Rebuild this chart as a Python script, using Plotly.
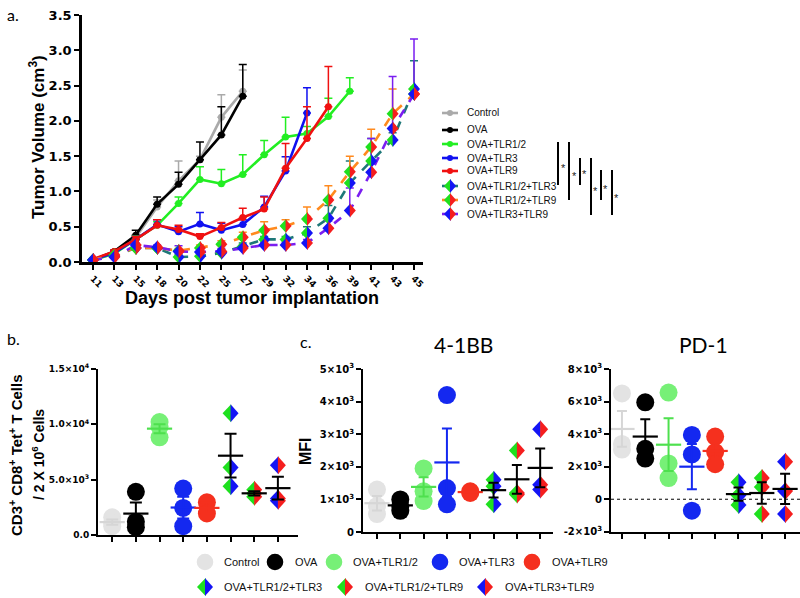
import numpy as np
import plotly.graph_objects as go

W, H = 800, 598
def px(x): return x / W
def py(y): return 1 - y / H

# ---------------- data: panel a (tumor volume, cm3) ----------------
days = [11, 13, 15, 18, 20, 22, 25, 27, 29, 32, 34, 36, 39, 41, 43, 45]
group_names = ["Control", "OVA", "OVA+TLR1/2", "OVA+TLR3", "OVA+TLR9",
               "OVA+TLR1/2+TLR3", "OVA+TLR1/2+TLR9", "OVA+TLR3+TLR9"]

vol_control = [0.03, 0.12, 0.35, 0.78, 1.15, 1.45, 2.05, 2.42]
err_control = [0.0, 0.0, 0.03, 0.10, 0.28, 0.05, 0.32, 0.30]
vol_ova = [0.03, 0.15, 0.38, 0.82, 1.10, 1.45, 1.80, 2.35]
err_ova = [0.0, 0.02, 0.07, 0.10, 0.17, 0.25, 0.40, 0.45]
vol_tlr12 = [0.03, 0.12, 0.32, 0.52, 0.83, 1.17, 1.11, 1.24, 1.52, 1.77, 1.82, 2.06, 2.42]
err_tlr12 = [0.0, 0.02, 0.05, 0.05, 0.09, 0.18, 0.20, 0.28, 0.20, 0.28, 0.10, 0.26, 0.19]
vol_tlr3 = [0.03, 0.13, 0.32, 0.53, 0.43, 0.54, 0.45, 0.53, 0.78, 1.29, 2.11]
err_tlr3 = [0.0, 0.02, 0.04, 0.07, 0.07, 0.16, 0.10, 0.07, 0.15, 0.20, 0.36]
vol_tlr9 = [0.04, 0.15, 0.32, 0.52, 0.46, 0.36, 0.49, 0.63, 0.75, 1.33, 1.75, 2.20]
err_tlr9 = [0.0, 0.02, 0.04, 0.08, 0.06, 0.04, 0.07, 0.13, 0.17, 0.35, 0.45, 0.57]
vol_12_3 = [0.03, 0.08, 0.20, 0.20, 0.07, 0.08, 0.13, 0.22, 0.32, 0.32, 0.41, 0.62, 1.12, 1.43, 1.73, 2.45]
err_12_3 = [0.0, 0.02, 0.03, 0.02, 0.04, 0.04, 0.04, 0.05, 0.04, 0.04, 0.09, 0.18, 0.31, 0.32, 0.10, 0.40]
vol_12_9 = [0.03, 0.10, 0.20, 0.20, 0.16, 0.20, 0.25, 0.35, 0.45, 0.51, 0.61, 0.88, 1.28, 1.63, 2.10, 2.38]
err_12_9 = [0.0, 0.02, 0.03, 0.03, 0.03, 0.04, 0.05, 0.07, 0.12, 0.09, 0.17, 0.20, 0.22, 0.25, 0.35, 0.10]
vol_3_9 = [0.03, 0.07, 0.24, 0.21, 0.15, 0.14, 0.15, 0.20, 0.24, 0.24, 0.27, 0.48, 0.73, 1.27, 1.89, 2.38]
err_3_9 = [0.0, 0.02, 0.03, 0.03, 0.08, 0.05, 0.04, 0.04, 0.04, 0.04, 0.05, 0.10, 0.32, 0.48, 0.74, 0.78]

# ---------------- data: panel b (cells / 2x10^6) ----------------
tet_cells = [[1600, 1100, 800], [3900, 1200, 700], [10200, 9800, 8830], [4200, 2450, 800],
             [2950, 1950], [11000, 6100, 4400], [4100, 3750, 3450], [6300, 3300, 3100]]
# ---------------- data: panel c (MFI) ----------------
mfi_41bb = [[1300, 800, 550], [1000, 800, 650], [1950, 1250, 950], [4200, 1350, 850],
            [1250, 1200], [1600, 1400, 850], [2500, 1200, 1150], [3150, 1450, 1300]]
mfi_pd1 = [[6500, 3400, 3050], [5950, 3100, 2500], [6550, 2200, 1300], [3950, 2750, -700],
           [3850, 2900, 2150], [1050, 250, -350], [1300, 750, -900], [2300, 500, -900]]

b_ticks = [0, 5000, 10000, 15000]
b_ticktext = ["0.0", "5.0×10<sup>3</sup>", "1.0×10<sup>4</sup>", "1.5×10<sup>4</sup>"]
c1_ticks = [0, 1000, 2000, 3000, 4000, 5000]
c1_ticktext = ["0", "1×10<sup>3</sup>", "2×10<sup>3</sup>", "3×10<sup>3</sup>", "4×10<sup>3</sup>", "5×10<sup>3</sup>"]
c2_ticks = [-2000, 0, 2000, 4000, 6000, 8000]
c2_ticktext = ["-2×10<sup>3</sup>", "0", "2×10<sup>3</sup>", "4×10<sup>3</sup>", "6×10<sup>3</sup>", "8×10<sup>3</sup>"]

# ---------------- styles ----------------
GREEN, BLUE, RED = "#1ee01e", "#1414f5", "#f51e1e"
line_colors = ["#aaaaaa", "#000000", "#22ee22", "#1010f0", "#f01010", "#1e7878", "#ff8a1e", "#7a1ef0"]
dot_colors = ["#e3e3e3", "#000000", "#77f077", "#1428f0", "#f5301e", None, None, None]
mean_colors = ["#d6d6d6", "#000000", "#4ee04e", "#1428f0", "#f5301e", "#000000", "#000000", "#000000"]
halves_cols = {5: (GREEN, BLUE), 6: (GREEN, RED), 7: (BLUE, RED)}

SANS = "Liberation Sans"
TICKF = "DejaVu Sans"

fig = go.Figure()
shapes = []
annotations = []

def split_diamond(xref, yref, x, y, w, h, cl, cr, layer):
    base = dict(type="path", xref=xref, yref=yref, xsizemode="pixel", ysizemode="pixel",
                xanchor=x, yanchor=y, line=dict(width=0), layer=layer)
    return [dict(base, path=f"M{-w},0L0.6,{h}L0.6,{-h}Z", fillcolor=cl),
            dict(base, path=f"M{w},0L0,{h}L0,{-h}Z", fillcolor=cr)]

def circle(xref, yref, x, y, r, color, layer="above"):
    return dict(type="circle", xref=xref, yref=yref, xsizemode="pixel", ysizemode="pixel",
                xanchor=x, yanchor=y, x0=-r, x1=r, y0=-r, y1=r, fillcolor=color,
                line=dict(width=0), layer=layer)

# ---------------- panel a traces ----------------
series_a = [(vol_control, err_control), (vol_ova, err_ova), (vol_tlr12, err_tlr12),
            (vol_tlr3, err_tlr3), (vol_tlr9, err_tlr9), (vol_12_3, err_12_3),
            (vol_12_9, err_12_9), (vol_3_9, err_3_9)]
for gi, (vals, errs) in enumerate(series_a):
    n = len(vals)
    xs = list(range(n))
    combo = gi >= 5
    fig.add_trace(go.Scatter(
        x=xs, y=vals, mode="lines" if combo else "lines+markers",
        line=dict(color=line_colors[gi], width=2.6, dash="dash" if combo else "solid"),
        marker=dict(size=7, color=line_colors[gi]),
        error_y=dict(type="data", symmetric=False, array=errs, arrayminus=[0] * n,
                     color=line_colors[gi], thickness=1.5, width=4),
        xaxis="x", yaxis="y", cliponaxis=False, name=group_names[gi]))
    if combo:
        cl, cr = halves_cols[gi]
        for xi, v in zip(xs, vals):
            shapes += split_diamond("x", "y", xi, v, 6, 7, cl, cr, "above")

# ---------------- panels b, c ----------------
panels = [(tet_cells, "x2", "y2", 6), (mfi_41bb, "x3", "y3", 5), (mfi_pd1, "x4", "y4", 5)]
for data, xa, ya, capw in panels:
    for gi, pts in enumerate(data):
        if gi < 5:
            fig.add_trace(go.Scatter(x=[gi] * len(pts), y=pts, mode="markers",
                                     marker=dict(size=18, color=dot_colors[gi], line=dict(width=0)),
                                     xaxis=xa, yaxis=ya, cliponaxis=False))
        else:
            cl, cr = halves_cols[gi]
            for v in pts:
                shapes += split_diamond(xa, ya, gi, v, 8, 9, cl, cr, "below")
    for gi, pts in enumerate(data):
        arr = np.array(pts, dtype=float)
        m = arr.mean()
        sem = arr.std(ddof=1) / np.sqrt(len(arr))
        fig.add_trace(go.Scatter(x=[gi], y=[m], mode="markers",
                                 marker=dict(symbol="line-ew", size=18,
                                             line=dict(width=2.2, color=mean_colors[gi])),
                                 error_y=dict(type="data", array=[sem], color=mean_colors[gi],
                                              thickness=2, width=capw),
                                 xaxis=xa, yaxis=ya, cliponaxis=False))

# dotted zero line in PD-1
shapes.append(dict(type="line", xref="x4 domain", yref="y4", x0=0, x1=1, y0=0, y1=0,
                   line=dict(color="black", width=1, dash="dot"), layer="below"))

# ---------------- panel a legend ----------------
leg_rows = [113, 130, 144, 158, 171, 186, 200, 214]
for gi, ry in enumerate(leg_rows):
    shapes.append(dict(type="line", xref="paper", yref="paper", x0=px(442), x1=px(458),
                       y0=py(ry), y1=py(ry), line=dict(color=line_colors[gi], width=2.6)))
    if gi < 5:
        shapes.append(circle("paper", "paper", px(450), py(ry), 3, line_colors[gi]))
    else:
        shapes += split_diamond("paper", "paper", px(450), py(ry), 6, 7, *halves_cols[gi], "above")
    annotations.append(dict(x=px(465), y=py(ry), text=group_names[gi], xanchor="left",
                            yanchor="middle", font=dict(family=SANS, size=10, color="#111")))

# significance brackets
sig_lines = [(558, 142, 185), (569, 142, 200), (580, 158, 185), (591, 158, 215), (601, 170, 200), (612, 170, 215)]
for lx, y0, y1 in sig_lines:
    shapes.append(dict(type="line", xref="paper", yref="paper", x0=px(lx), x1=px(lx),
                       y0=py(y0), y1=py(y1), line=dict(color="black", width=2)))
stars = [(563.5, 166), (574, 174), (584.5, 172), (595.5, 189), (605.5, 187), (616.5, 196)]
for sx, sy in stars:
    annotations.append(dict(x=px(sx), y=py(sy + 2), text="*", font=dict(family=SANS, size=11, color="#222"),
                            xanchor="center", yanchor="middle"))

# ---------------- bottom legend ----------------
row1 = [(205, 222), (275, 293), (334, 351), (440, 457), (532, 550)]
for gi, (cx, tx) in enumerate(row1):
    shapes.append(circle("paper", "paper", px(cx), py(562), 8.3, dot_colors[gi]))
    annotations.append(dict(x=px(tx), y=py(562), text=group_names[gi], xanchor="left", yanchor="middle",
                            font=dict(family=SANS, size=11, color="#111")))
row2 = [(205, 222), (345, 363), (485, 503)]
for k, (cx, tx) in enumerate(row2):
    gi = 5 + k
    shapes += split_diamond("paper", "paper", px(cx), py(587), 8, 9, *halves_cols[gi], "above")
    annotations.append(dict(x=px(tx), y=py(587), text=group_names[gi], xanchor="left", yanchor="middle",
                            font=dict(family=SANS, size=11, color="#111")))

# ---------------- titles & labels ----------------
def ann(x, y, text, size, family=SANS, angle=0, bold=False):
    annotations.append(dict(x=px(x), y=py(y), text=f"<b>{text}</b>" if bold else text,
                            textangle=angle, xanchor="center", yanchor="middle",
                            font=dict(family=family, size=size, color="black")))

ann(13, 15, "a.", 16, family="Lato")
ann(13, 338, "b.", 16, family="Lato")
ann(305, 342, "c.", 16, family="Lato")
ann(37, 137, "Tumor Volume (cm<sup>3</sup>)", 17, angle=-90, bold=True)
ann(252, 298, "Days post tumor implantation", 18, bold=True)
ann(15, 455, "CD3<sup>+</sup> CD8<sup>+</sup> Tet<sup>+</sup> T Cells", 15, angle=-90, bold=True)
ann(38, 455, "/ 2 X 10<sup>6</sup> Cells", 14, angle=-90, bold=True)
ann(305, 451, "MFI", 16, angle=-90, bold=True)
ann(463, 345, "4-1BB", 21, family="Lato")
ann(703, 345, "PD-1", 21, family="Lato")

for a in annotations:
    a.setdefault("xref", "paper")
    a.setdefault("yref", "paper")
    a["showarrow"] = False

axis_common = dict(showline=True, linecolor="black", showgrid=False, zeroline=False,
                   ticks="outside", tickcolor="black", automargin=False)

layout = dict(
    template="none",
    width=W, height=H, margin=dict(l=0, r=0, t=0, b=0, pad=0, autoexpand=False),
    paper_bgcolor="white", plot_bgcolor="white", showlegend=False,
    xaxis=dict(axis_common, domain=[px(82), px(423)], range=[-0.51, 15.42], anchor="y",
               tickvals=list(range(len(days))), ticktext=[str(d) for d in days], tickangle=45,
               linewidth=2.5, ticklen=5, tickwidth=2,
               tickfont=dict(family=TICKF, size=9, color="black", weight="bold")),
    yaxis=dict(axis_common, domain=[py(262), py(15)], range=[0, 3.5], anchor="x",
               dtick=0.5, tickformat=".1f", linewidth=2.5, ticklen=5, tickwidth=2,
               tickfont=dict(family=TICKF, size=13, color="black", weight="bold")),
    xaxis2=dict(axis_common, domain=[px(98), px(298)], range=[-0.6, 7.85], anchor="y2",
                tickvals=list(range(8)), showticklabels=False, linewidth=2, ticklen=5, tickwidth=1.5),
    yaxis2=dict(axis_common, domain=[py(535), py(369)], range=[0, 15000], anchor="x2",
                tickvals=b_ticks, ticktext=b_ticktext, linewidth=2, ticklen=5, tickwidth=1.5,
                tickfont=dict(family=TICKF, size=9, color="black", weight="bold")),
    xaxis3=dict(axis_common, domain=[px(363), px(553)], range=[-0.6, 7.55], anchor="y3",
                tickvals=list(range(8)), showticklabels=False, linewidth=2, ticklen=5, tickwidth=1.5),
    yaxis3=dict(axis_common, domain=[py(532), py(369)], range=[0, 5000], anchor="x3",
                tickvals=c1_ticks, ticktext=c1_ticktext, linewidth=2, ticklen=5, tickwidth=1.5,
                tickfont=dict(family=TICKF, size=10, color="black", weight="bold")),
    xaxis4=dict(axis_common, domain=[px(611), 1.0], range=[-0.47, 7.64], anchor="y4",
                tickvals=list(range(8)), showticklabels=False, linewidth=2, ticklen=5, tickwidth=1.5),
    yaxis4=dict(axis_common, domain=[py(531.8), py(369)], range=[-2000, 8000], anchor="x4",
                tickvals=c2_ticks, ticktext=c2_ticktext, linewidth=2, ticklen=5, tickwidth=1.5,
                tickfont=dict(family=TICKF, size=10, color="black", weight="bold")),
    shapes=shapes, annotations=annotations,
)
fig.update_layout(**layout)
fig.write_html("out.html", config={"displayModeBar": False},
               post_script="document.body.style.margin='0px';document.body.style.padding='0px';")
